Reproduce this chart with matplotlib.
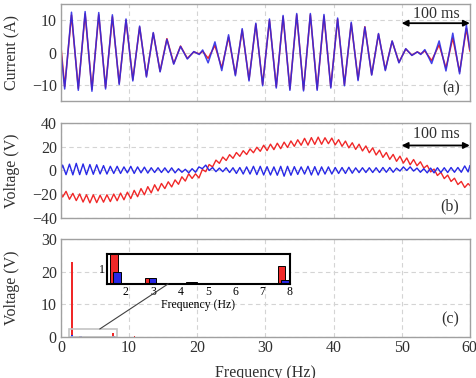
import matplotlib
matplotlib.use('Agg')
import matplotlib.pyplot as plt
import numpy as np
from matplotlib.patches import Rectangle, ConnectionPatch

plt.rcParams['font.family'] = ['Liberation Serif', 'DejaVu Serif']
plt.rcParams['font.size'] = 11.5

# ---------------- data ----------------
# (a) current waveform: extrema (time in ms)
a_t = [0, 5.5, 15.5, 25.5, 35.5, 45.5, 55.5, 65.5, 75.5, 85.5, 95.5, 105.5, 115.5,
       125.5, 135.5, 145.5, 155.5, 165.5, 175.5, 185.5, 195, 203, 208, 216, 226, 236,
       246, 256, 266, 276, 286, 296, 306, 316, 326, 336, 346, 356, 366, 376, 386, 396,
       406, 416, 426, 436, 446, 456, 466, 476, 486, 496, 506, 515, 523, 528, 534, 544,
       555, 565, 575, 585, 595, 600]
a_blue = [0.5, -11.3, 12.5, -11.7, 12.7, -12.0, 12.4, -11.3, 11.7, -9.9, 10.4, -8.8,
          8.2, -7.6, 6.2, -6.0, 4.1, -3.6, 1.9, -2.0, 0.3, -0.6, 0.8, -3.2, 3.3, -5.6,
          5.5, -7.2, 7.4, -8.8, 9.1, -10.3, 10.4, -11.0, 11.5, -11.7, 12.1, -11.9, 12.1,
          -11.7, 11.8, -11.0, 10.7, -10.3, 9.4, -8.7, 7.9, -7.0, 5.9, -5.6, 3.6, -3.2,
          1.2, -0.9, 0.2, -0.6, 0.9, -3.4, 3.6, -5.7, 6.0, -6.6, 8.5, 1.0]
a_red = [2.0, -10.6, 11.6, -11.1, 12.0, -11.4, 11.7, -10.8, 11.1, -9.5, 10.0, -8.4,
         7.9, -7.3, 6.0, -5.8, 4.3, -3.4, 2.0, -1.8, 0.2, -0.4, 0.4, -1.8, 2.2, -4.8,
         4.8, -6.8, 7.0, -8.4, 8.8, -9.9, 10.0, -10.6, 11.1, -11.3, 11.7, -11.5, 11.7,
         -11.3, 11.3, -10.6, 10.3, -9.9, 9.0, -8.3, 8.0, -6.8, 5.7, -5.3, 3.5, -3.0,
         1.1, -0.8, 0.2, -0.4, 0.5, -2.5, 2.4, -4.8, 4.5, -6.0, 7.5, 0.5]

# (b) voltage waveforms: ripple extrema every 5 ms
b_t = np.concatenate([[0], np.arange(2.5, 600, 5), [600]])
b_red = [-19.0,
         -22.3, -17.5, -24.2, -19.2, -25.3, -19.7, -26.5, -20.4, -27.2, -20.4,
         -27.0, -20.8, -26.6, -20.4, -26.1, -19.8, -25.4, -19.0, -24.6, -18.2,
         -23.6, -16.7, -22.0, -15.2, -20.4, -13.6, -18.8, -12.0, -17.2, -10.9,
         -15.2, -9.5, -13.8, -7.9, -11.6, -5.3, -8.9, -2.8, -6.7, -2.8,
         -6.3, 0.8, -1.0, 5.0, 3.0, 8.7, 6.0, 11.3, 8.4, 13.3,
         10.2, 15.1, 11.9, 16.6, 13.4, 18.1, 14.9, 19.5, 16.1, 21.2,
         16.7, 22.1, 17.5, 22.9, 18.3, 23.8, 19.3, 24.8, 20.3, 25.8,
         21.2, 27.0, 21.3, 27.6, 21.9, 28.0, 22.0, 27.5, 22.5, 27.2,
         21.5, 25.9, 20.3, 24.7, 19.0, 23.3, 17.7, 22.1, 16.4, 20.6,
         14.9, 19.0, 13.0, 17.1, 11.0, 15.1, 9.3, 13.5, 7.7, 12.0,
         6.2, 10.5, 4.8, 9.2, 4.0, 7.3, 2.0, 4.3, -1.2, 1.2,
         -4.2, -1.5, -6.8, -3.9, -9.2, -6.5, -11.8, -9.2, -14.3, -11.0,
         -12.5]
b_blue = [0.5,
          4.5, -3.5, 5.3, -3.7, 6.0, -3.5, 5.5, -3.5, 5.0, -3.2,
          4.8, -2.9, 4.1, -3.0, 3.5, -2.5, 3.5, -2.5, 3.0, -2.0,
          3.5, -2.5, 3.0, -2.0, 2.8, -2.2, 2.3, -1.7, 2.3, -1.7,
          2.2, -1.8, 2.2, -2.0, 1.5, -1.5, 1.0, -2.0, 1.5, -1.5,
          3.0, 1.5, 4.5, 0.0, 2.5, -1.0, 2.0, -1.0, 2.3, -1.7,
          2.3, -2.5, 2.5, -3.0, 3.0, -3.0, 3.5, -3.5, 3.5, -3.8,
          3.2, -3.8, 3.0, -4.0, 3.5, -4.8, 3.5, -4.0, 3.2, -3.3,
          3.0, -3.0, 3.5, -3.8, 3.2, -3.8, 3.0, -3.0, 3.0, -3.0,
          2.5, -2.5, 2.5, -2.5, 2.7, -2.3, 2.2, -1.8, 2.3, -1.7,
          2.3, -1.7, 2.3, -1.7, 2.5, -1.5, 2.5, -1.5, 2.0, -0.5,
          3.0, 0.0, 3.0, -0.5, 2.0, -1.5, 1.5, -2.0, 2.0, -2.0,
          2.3, -1.7, 2.3, -1.7, 2.5, -1.5, 2.5, -1.5, 3.8, -1.2,
          4.0]

# (c) spectrum
c_freq = [1.62, 2.92, 4.42, 6.02, 7.75, 10.85, 17.05, 26.35]
c_red = [23.0, 0.33, 0.12, 0.04, 1.17, 0.35, 0.08, 0.06]
c_blue = [0.78, 0.34, 0.08, 0.03, 0.23, 0.05, 0.06, 0.05]

# ---------------- style ----------------
RED = '#f02828'
BLUE = '#2828e6'
TXT = '#303030'

fig = plt.figure(figsize=(4.76, 3.78), dpi=100)
axA = fig.add_axes([0.128, 0.733, 0.859, 0.256])
axB = fig.add_axes([0.128, 0.423, 0.859, 0.252])
axC = fig.add_axes([0.128, 0.108, 0.859, 0.260])


def style(ax):
    for s in ax.spines.values():
        s.set_color('#a0a0a0')
        s.set_linewidth(1.0)
    ax.grid(True, color='#d4d4d4', linestyle=(0, (4, 3)), linewidth=0.8)
    ax.set_axisbelow(True)
    ax.tick_params(length=0, pad=3, labelcolor=TXT)


for ax in (axA, axB):
    style(ax)
    ax.set_xlim(0, 600)
    ax.set_xticks(np.arange(0, 601, 100))
    ax.set_xticklabels([])

YLX = -0.100

# (a)
axA.plot(a_t, a_red, color=RED, lw=1.1)
axA.plot(a_t, a_blue, color=BLUE, lw=1.1, alpha=0.88)
axA.set_ylim(-15, 15)
axA.set_yticks([-10, 0, 10])
axA.set_ylabel('Current (A)', color=TXT)
axA.yaxis.set_label_coords(YLX, 0.5)
axA.annotate('', xy=(500, 9.1), xytext=(600, 9.1),
             arrowprops=dict(arrowstyle='<|-|>', lw=1.3, color='black',
                             mutation_scale=9, shrinkA=0, shrinkB=0))
axA.text(551, 12.0, '100 ms', ha='center', va='center', color=TXT)
axA.text(0.955, 0.13, '(a)', transform=axA.transAxes, ha='center', va='center', color=TXT)

# (b)
axB.plot(b_t, b_red, color=RED, lw=1.0)
axB.plot(b_t, b_blue, color=BLUE, lw=1.0)
axB.set_ylim(-40, 40)
axB.set_yticks([-40, -20, 0, 20, 40])
axB.set_ylabel('Voltage (V)', color=TXT)
axB.yaxis.set_label_coords(YLX, 0.5)
axB.annotate('', xy=(500, 21), xytext=(600, 21),
             arrowprops=dict(arrowstyle='<|-|>', lw=1.3, color='black',
                             mutation_scale=9, shrinkA=0, shrinkB=0))
axB.text(551, 31, '100 ms', ha='center', va='center', color=TXT)
axB.text(0.951, 0.12, '(b)', transform=axB.transAxes, ha='center', va='center', color=TXT)

# (c)
style(axC)
fr = np.array(c_freq)
axC.bar(fr - 0.06, c_red, width=0.28, color=RED, linewidth=0)
axC.bar(fr + 0.06, c_blue, width=0.28, color=BLUE, linewidth=0)
axC.set_xlim(0, 60)
axC.set_ylim(0, 30)
axC.set_xticks(np.arange(0, 61, 10))
axC.set_yticks([0, 10, 20, 30])
axC.tick_params(axis='x', pad=2)
axC.set_ylabel('Voltage (V)', color=TXT)
axC.yaxis.set_label_coords(YLX, 0.5)
axC.set_xlabel('Frequency (Hz)', color=TXT)
axC.xaxis.set_label_coords(0.5, -0.285)
axC.text(0.953, 0.18, '(c)', transform=axC.transAxes, ha='center', va='center', color=TXT)
axC.add_patch(Rectangle((1.22, 0), 6.95, 2.5, fill=False, edgecolor='#c4c4c4', lw=1.2))

# inset
axI = fig.add_axes([0.224, 0.249, 0.385, 0.079])
axI.set_facecolor('white')
axI.bar(fr - 0.06, c_red, width=0.28, color=RED, edgecolor='black', linewidth=0.7)
axI.bar(fr + 0.06, c_blue, width=0.28, color=BLUE, edgecolor='black', linewidth=0.7)
axI.set_xlim(1.3, 8.0)
axI.set_ylim(-0.02, 1.92)
axI.set_xticks([2, 3, 4, 5, 6, 7, 8])
axI.set_yticks([1])
for s in axI.spines.values():
    s.set_color('black')
    s.set_linewidth(1.5)
axI.tick_params(length=0, pad=1.5, labelsize=8.5, labelcolor='black')
axI.set_xlabel('Frequency (Hz)', fontsize=8.5, labelpad=0.5)

con = ConnectionPatch(xyA=(5.7, 2.5), coordsA=axC.transData,
                      xyB=(3.55, -0.02), coordsB=axI.transData,
                      color='#404040', lw=0.8)
fig.add_artist(con)

fig.savefig('out.png', dpi=100)
